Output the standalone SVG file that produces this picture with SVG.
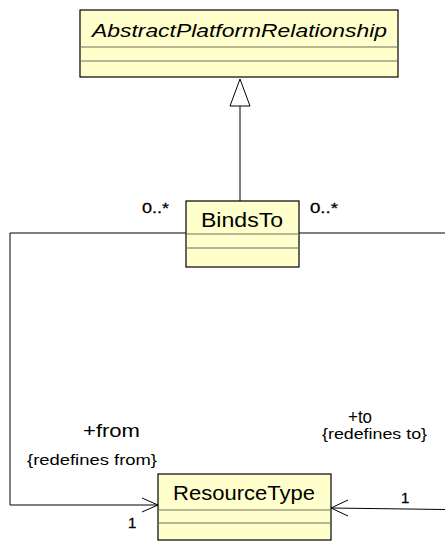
<svg xmlns="http://www.w3.org/2000/svg" width="445" height="542" viewBox="0 0 445 542">
<style>
.box{fill:#FFFFCC;stroke:#000;stroke-width:1.2}
.sep{stroke:#6E6E5A;stroke-width:1.2}
.t{font-family:"Liberation Sans",Arial,sans-serif;fill:#000}
.m{font-family:"Liberation Sans",Arial,sans-serif;fill:#000;font-size:15px;stroke:#000;stroke-width:0.3}
.c{fill:none;stroke:#000;stroke-width:1}
</style>
<rect width="445" height="542" fill="#fff"/>
<g id="AbstractPlatformRelationship">
<rect class="box" x="80" y="10" width="318" height="67"/>
<line class="sep" x1="80" y1="47" x2="398" y2="47"/>
<line class="sep" x1="80" y1="61" x2="398" y2="61"/>
<text class="t" x="92" y="37" font-size="19" font-style="italic" textLength="295" lengthAdjust="spacingAndGlyphs">AbstractPlatformRelationship</text>
</g>
<g id="BindsTo">
<rect class="box" x="186" y="201" width="113" height="66"/>
<line class="sep" x1="186" y1="234" x2="299" y2="234"/>
<line class="sep" x1="186" y1="248" x2="299" y2="248"/>
<text class="t" x="201" y="227" font-size="20" textLength="82" lengthAdjust="spacingAndGlyphs">BindsTo</text>
</g>
<g id="ResourceType">
<rect class="box" x="158" y="474" width="173" height="66"/>
<line class="sep" x1="158" y1="510" x2="331" y2="510"/>
<line class="sep" x1="158" y1="523" x2="331" y2="523"/>
<text class="t" x="173" y="500" font-size="20" textLength="142" lengthAdjust="spacingAndGlyphs">ResourceType</text>
</g>
<g id="connectors">
<line class="c" x1="240" y1="106" x2="240" y2="201"/>
<polygon points="240,79 230,106 250,106" fill="#fff" stroke="#000" stroke-width="1"/>
<polyline class="c" points="186,233 10,233 10,505 158,505"/>
<polyline class="c" points="142,498 158,505 142,512"/>
<line class="c" x1="299" y1="233" x2="445" y2="233"/>
<line class="c" x1="331" y1="508" x2="445" y2="509.5"/>
<polyline class="c" points="348,500 331,508 348,516"/>
</g>
<g id="labels">
<text class="m" x="142" y="213" textLength="27" lengthAdjust="spacingAndGlyphs">0..*</text>
<text class="m" x="310" y="213" textLength="28" lengthAdjust="spacingAndGlyphs">0..*</text>
<text class="t" x="83" y="437" font-size="18" textLength="57" lengthAdjust="spacingAndGlyphs">+from</text>
<text class="t" x="27" y="465" font-size="14" textLength="130" lengthAdjust="spacingAndGlyphs">{redefines from}</text>
<text class="t" x="348" y="423" font-size="18" textLength="24" lengthAdjust="spacingAndGlyphs">+to</text>
<text class="t" x="322" y="439" font-size="14" textLength="105" lengthAdjust="spacingAndGlyphs">{redefines to}</text>
<text class="m" x="128" y="528">1</text>
<text class="m" x="401" y="503">1</text>
</g>
</svg>
